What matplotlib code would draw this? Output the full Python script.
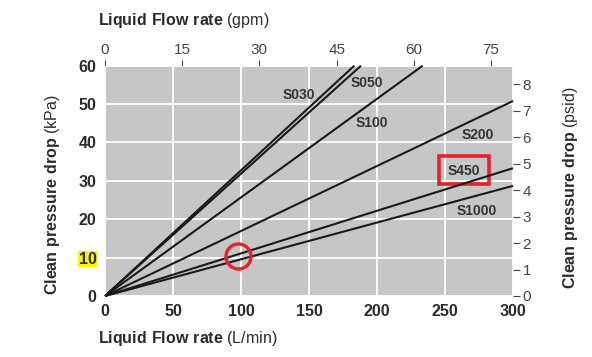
import matplotlib
matplotlib.use("Agg")
import matplotlib.pyplot as plt
from matplotlib.patches import Rectangle

# ----------------------------
# Datos
# ----------------------------
series = ["S030", "S050", "S100", "S200", "S450", "S1000"]
end_flow = [183.3, 188.2, 233.6, 300, 300, 300]        # L/min al final de cada recta
end_dp = [60, 60, 60, 50.8, 33.3, 28.7]                 # kPa al final de cada recta
label_x = [142.6, 192.4, 196, 273.8, 264, 273.3]
label_y = [52.3, 55.4, 45, 41.9, 32.6, 22.2]

x_ticks = [0, 50, 100, 150, 200, 250, 300]
y_ticks = [0, 10, 20, 30, 40, 50, 60]
gpm_ticks = [0, 15, 30, 45, 60, 75]
psid_ticks = [0, 1, 2, 3, 4, 5, 6, 7, 8]

LPM_PER_GPM = 3.785
KPA_PER_PSI = 6.895

plt.rcParams['font.family'] = ['Liberation Sans', 'DejaVu Sans']
plt.rcParams['mathtext.fontset'] = 'custom'
plt.rcParams['mathtext.bf'] = 'Liberation Sans:bold'
plt.rcParams['mathtext.rm'] = 'Liberation Sans'

fig = plt.figure(figsize=(5.92, 3.57), dpi=100)
ax = fig.add_axes([0.1774, 0.1709, 0.6892, 0.6451])
ax.set_facecolor("#c5c6c8")

ax.set_xlim(0, 300)
ax.set_ylim(0, 60)
ax.set_xticks(x_ticks)
ax.set_yticks(y_ticks)
ax.grid(True, color="white", linewidth=1.3)
ax.set_axisbelow(True)
for s in ax.spines.values():
    s.set_visible(False)
ax.tick_params(axis="both", length=0, labelsize=11.5, colors="#2b2b2b", pad=6)
for lab in ax.get_xticklabels() + ax.get_yticklabels():
    lab.set_fontweight("bold")

# resaltado amarillo del "10"
for lab in ax.get_yticklabels():
    if lab.get_text() == "10":
        lab.set_bbox(dict(facecolor="#fff200", edgecolor="none", pad=0.5))

# rectas desde el origen
for name, fx, fy, lx, ly in zip(series, end_flow, end_dp, label_x, label_y):
    ax.plot([0, fx], [0, fy], color="#1a1a1a", linewidth=1.5, solid_capstyle="butt", clip_on=False)
    ax.text(lx, ly, name, fontsize=10, fontweight="bold", color="#333333",
            ha="center", va="center")

# marcas rojas
ax.add_patch(Rectangle((245.8, 29.3), 36.6, 7.3, fill=False, edgecolor="#e8202a", linewidth=2.6))
ax.plot([98], [10.4], marker="o", markersize=18, markerfacecolor="none",
        markeredgecolor="#e8202a", markeredgewidth=2.4)

# eje superior (gpm)
top = ax.secondary_xaxis("top", functions=(lambda v: v / LPM_PER_GPM, lambda v: v * LPM_PER_GPM))
top.set_xticks(gpm_ticks)
top.tick_params(length=4, width=0.8, colors="#444444", labelsize=11, pad=2)
top.spines["top"].set_visible(False)

# eje derecho (psid)
right = ax.secondary_yaxis("right", functions=(lambda v: v / KPA_PER_PSI, lambda v: v * KPA_PER_PSI))
right.set_yticks(psid_ticks)
right.tick_params(length=5, width=0.8, colors="#444444", labelsize=11, pad=2)
right.spines["right"].set_visible(False)

# títulos de los ejes
fig.text(98 / 592, 1 - 338 / 357, r"$\mathbf{Liquid\ Flow\ rate}$ (L/min)", fontsize=11.5,
         color="#2b2b2b", ha="left", va="center")
fig.text(98 / 592, 1 - 21 / 357, r"$\mathbf{Liquid\ Flow\ rate}$ (gpm)", fontsize=11.5,
         color="#2b2b2b", ha="left", va="center")
fig.text(53 / 592, 1 - 195 / 357, r"$\mathbf{Clean\ pressure\ drop}$ (kPa)", fontsize=11.5,
         color="#2b2b2b", ha="center", va="center", rotation=90)
fig.text(570 / 592, 1 - 188 / 357, r"$\mathbf{Clean\ pressure\ drop}$ (psid)", fontsize=11.5,
         color="#2b2b2b", ha="center", va="center", rotation=90)

plt.savefig("out.png", dpi=100)
plt.close()
